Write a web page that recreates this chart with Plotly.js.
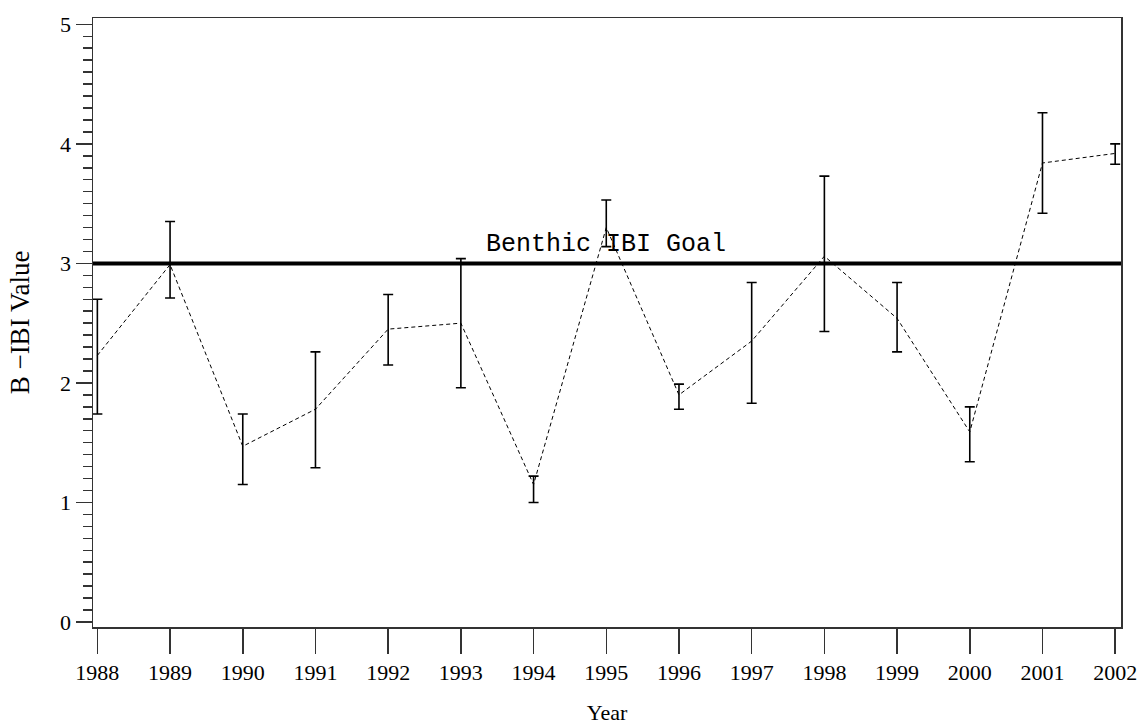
<!DOCTYPE html>
<html>
<head>
<meta charset="utf-8">
<script src="https://cdn.plot.ly/plotly-3.0.1.min.js"></script>
<style>
  html, body { margin: 0; padding: 0; background: #fff; }
  #chart { width: 1144px; height: 725px; }
</style>
</head>
<body>
<div id="chart"></div>
<script>
// Data
const years     = [1988, 1989, 1990, 1991, 1992, 1993, 1994, 1995, 1996, 1997, 1998, 1999, 2000, 2001, 2002];
const meanIBI   = [2.23, 2.99, 1.47, 1.78, 2.45, 2.50, 1.15, 3.30, 1.90, 2.35, 3.06, 2.54, 1.59, 3.84, 3.92];
const upperIBI  = [2.70, 3.35, 1.74, 2.26, 2.74, 3.04, 1.22, 3.53, 1.99, 2.84, 3.73, 2.84, 1.80, 4.26, 4.00];
const lowerIBI  = [1.74, 2.71, 1.15, 1.29, 2.15, 1.96, 1.00, 3.14, 1.78, 1.83, 2.43, 2.26, 1.34, 3.42, 3.83];
const goalValue = 3;
const goalLabel = "Benthic IBI Goal";
const yTicks    = [0, 1, 2, 3, 4, 5];

const errPlus  = upperIBI.map((u, i) => u - meanIBI[i]);
const errMinus = meanIBI.map((m, i) => m - lowerIBI[i]);

const serif = "Liberation Serif, Times New Roman, serif";

const traces = [
  {
    x: years,
    y: meanIBI,
    type: "scatter",
    mode: "lines",
    line: { color: "#000", width: 1, dash: "4px,3px" },
    error_y: {
      type: "data",
      symmetric: false,
      array: errPlus,
      arrayminus: errMinus,
      color: "#000",
      thickness: 1.6,
      width: 5
    },
    hoverinfo: "x+y",
    showlegend: false
  }
];

const layout = {
  width: 1144,
  height: 725,
  margin: { l: 93, r: 23, t: 18, b: 98 },
  paper_bgcolor: "#fff",
  plot_bgcolor: "#fff",
  showlegend: false,
  xaxis: {
    range: [1987.94, 2002.08],
    tickvals: years,
    ticktext: years.map(String),
    ticks: "outside",
    ticklen: 25,
    tickwidth: 1.5,
    tickcolor: "#333",
    showline: true,
    mirror: true,
    linecolor: "#333",
    linewidth: 1.5,
    showgrid: false,
    zeroline: false,
    tickfont: { family: serif, size: 22, color: "#000" },
    title: { text: "Year", font: { family: serif, size: 22, color: "#000" }, standoff: 20 }
  },
  yaxis: {
    range: [-0.042, 5.053],
    tickvals: yTicks,
    ticks: "outside",
    ticklen: 16,
    tickwidth: 1.5,
    tickcolor: "#333",
    minor: { dtick: 0.1, tick0: 0, ticks: "outside", ticklen: 9, tickwidth: 1.5, tickcolor: "#333", showgrid: false },
    showline: true,
    mirror: true,
    linecolor: "#333",
    linewidth: 1.5,
    showgrid: false,
    zeroline: false,
    tickfont: { family: serif, size: 22, color: "#000" },
    title: { text: "B \u2212IBI Value", font: { family: serif, size: 27, color: "#000" }, standoff: 22 }
  },
  shapes: [
    {
      type: "line",
      xref: "paper", x0: 0, x1: 1,
      yref: "y", y0: goalValue, y1: goalValue,
      line: { color: "#000", width: 4 }
    }
  ],
  annotations: [
    {
      x: 1995, y: goalValue, xref: "x", yref: "y",
      text: goalLabel,
      showarrow: false,
      xanchor: "center",
      yanchor: "bottom",
      yshift: 2,
      font: { family: "Liberation Mono, DejaVu Sans Mono, monospace", size: 25, color: "#000" }
    }
  ]
};

Plotly.newPlot("chart", traces, layout, { displayModeBar: false, staticPlot: true });
</script>
</body>
</html>
